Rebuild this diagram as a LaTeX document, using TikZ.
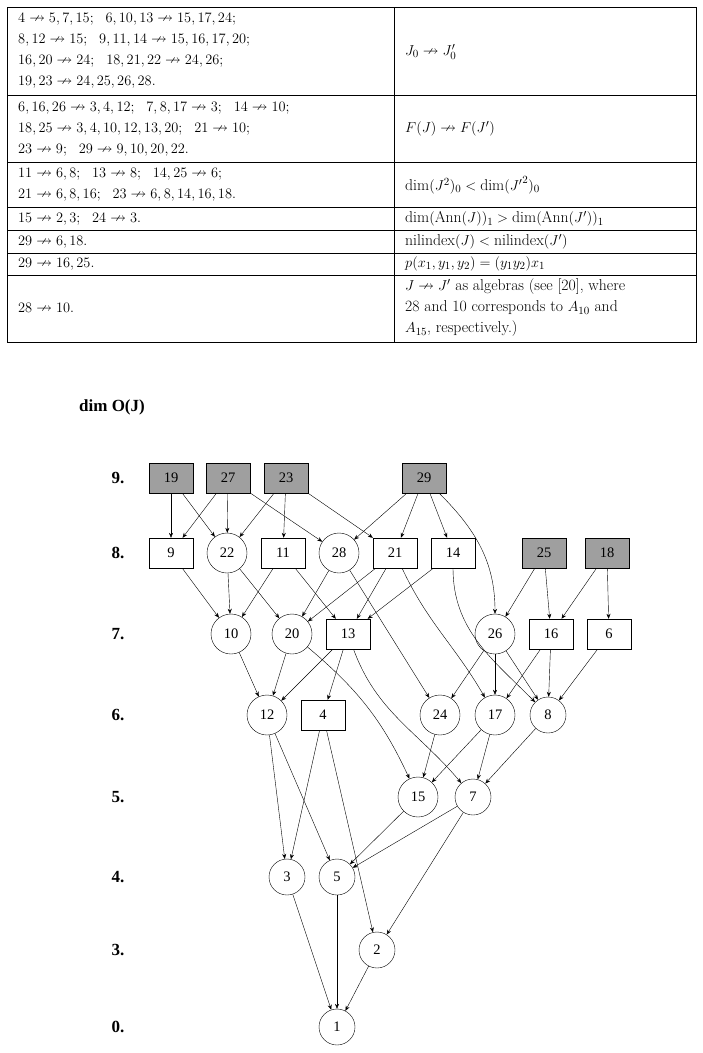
\documentclass[tikz,border=0pt]{standalone}
\usepackage{amssymb}
\usepackage{fontspec}
\newfontfamily\tms{Liberation Serif}
\usetikzlibrary{arrows.meta,positioning}
\newcommand{\na}{\nrightarrow}
\begin{document}
\begin{tikzpicture}
   [x=1pt,y=-1pt,
    every node/.style={font=\tms\fontsize{14.5}{16}\selectfont},
    cell/.style={anchor=west,align=left,inner sep=0pt,font=\fontsize{15.7}{21}\selectfont},
    box/.style={draw,rectangle,minimum width=44pt,minimum height=30pt,inner sep=1pt},
    gbox/.style={box,fill=gray!75},
    circ/.style={draw,circle,minimum size=40pt,inner sep=1pt},
    lvl/.style={font=\tms\bfseries\fontsize{17}{19}\selectfont},
    every edge/.style={draw,-{Stealth[length=5pt,width=4pt]},thin}]
   \useasboundingbox (0,0) rectangle (703,1053);
   % table
   \draw[thick] (7,7) rectangle (696,342);
   \draw (394,7) -- (394,342);
   \foreach \y in {95,162,207,230,253,275} \draw (7,\y) -- (696,\y);
   \node[cell] (l1) at (18,51) {$4\na5,7,15;\ \ 6,10,13\na15,17,24;$\\$8,12\na15;\ \ 9,11,14\na15,16,17,20;$\\$16,20\na24;\ \ 18,21,22\na24,26;$\\$19,23\na24,25,26,28.$};
   \node[cell] (r1) at (405,52) {$J_0\na J_0'$};
   \node[cell] (l2) at (18,129) {$6,16,26\na3,4,12;\ \ 7,8,17\na3;\ \ 14\na10;$\\$18,25\na3,4,10,12,13,20;\ \ 21\na10;$\\$23\na9;\ \ 29\na9,10,20,22.$};
   \node[cell] (r2) at (405,129) {$F(J)\na F(J')$};
   \node[cell] (l3) at (18,185) {$11\na6,8;\ \ 13\na8;\ \ 14,25\na6;$\\$21\na6,8,16;\ \ 23\na6,8,14,16,18.$};
   \node[cell] (r3) at (405,185) {$\dim(J^2)_0<\dim({J'}^2)_0$};
   \node[cell] (l4) at (18,219) {$15\na2,3;\ \ 24\na3.$};
   \node[cell] (r4) at (405,219) {$\dim(\mathrm{Ann}(J))_1>\dim(\mathrm{Ann}(J'))_1$};
   \node[cell] (l5) at (18,242) {$29\na6,18.$};
   \node[cell] (r5) at (405,242) {$\mathrm{nilindex}(J)<\mathrm{nilindex}(J')$};
   \node[cell] (l6) at (18,264) {$29\na16,25.$};
   \node[cell] (r6) at (405,264) {$p(x_1,y_1,y_2)=(y_1y_2)x_1$};
   \node[cell] (l7) at (18,308) {$28\na10.$};
   \node[cell] (r7) at (405,308) {$J\na J'$ as algebras (see [20], where\\28 and 10 corresponds to $A_{10}$ and\\$A_{15}$, respectively.)};
   % graph
   \node[lvl] (dim) at (112,407) {dim O(J)};
   \node[lvl] (L9) at (118,478) {9.};
   \node[lvl] (L8) at (118,553) {8.};
   \node[lvl] (L7) at (118,634) {7.};
   \node[lvl] (L6) at (118,715) {6.};
   \node[lvl] (L5) at (118,797) {5.};
   \node[lvl] (L4) at (118,877) {4.};
   \node[lvl] (L3) at (118,950) {3.};
   \node[lvl] (L0) at (118,1027) {0.};
   \node[gbox] (n19) at (171,478) {19};
   \node[gbox] (n27) at (228,478) {27};
   \node[gbox] (n23) at (286,478) {23};
   \node[gbox] (n29) at (424,478) {29};
   \node[box] (n9) at (171,553) {9};
   \node[circ] (n22) at (227,553) {22};
   \node[box] (n11) at (283,553) {11};
   \node[circ] (n28) at (339,553) {28};
   \node[box] (n21) at (395,553) {21};
   \node[box] (n14) at (453,553) {14};
   \node[gbox] (n25) at (544,553) {25};
   \node[gbox] (n18) at (607,553) {18};
   \node[circ] (n10) at (231,634) {10};
   \node[circ] (n20) at (292,634) {20};
   \node[box] (n13) at (348,634) {13};
   \node[circ] (n26) at (495,634) {26};
   \node[box] (n16) at (551,634) {16};
   \node[box] (n6) at (609,634) {6};
   \node[circ] (n12) at (267,715) {12};
   \node[box] (n4) at (323,715) {4};
   \node[circ] (n24) at (440,715) {24};
   \node[circ] (n17) at (495,715) {17};
   \node[circ,minimum size=36pt] (n8) at (548,715) {8};
   \node[circ] (n15) at (418,797) {15};
   \node[circ,minimum size=36pt] (n7) at (473,797) {7};
   \node[circ,minimum size=36pt] (n3) at (287,877) {3};
   \node[circ,minimum size=36pt] (n5) at (337,877) {5};
   \node[circ,minimum size=36pt] (n2) at (377,950) {2};
   \node[circ,minimum size=36pt] (n1) at (337,1027) {1};
   \path (n19) edge (n9) edge (n22);
   \path (n27) edge (n9) edge (n22) edge (n28);
   \path (n23) edge (n22) edge (n11) edge (n21);
   \path (n29) edge (n28) edge (n21) edge (n14);
   \path (n29) edge[out=-45,in=90] (n26);
   \path (n9) edge (n10);
   \path (n22) edge (n10) edge (n20);
   \path (n11) edge (n10) edge (n13);
   \path (n28) edge (n20) edge (n24);
   \path (n21) edge (n20) edge (n13);
   \path (n21) edge[out=-65,in=120] (n17);
   \path (n14) edge (n13);
   \path (n14.south) edge[out=-90,in=135] (n8);
   \path (n25) edge (n26) edge (n16);
   \path (n18) edge (n16) edge (n6);
   \path (n10) edge (n12);
   \path (n20) edge (n12);
   \path (n20) edge[out=-40,in=115] (n15);
   \path (n13) edge (n12) edge (n4);
   \path (n13) edge[out=-70,in=130] (n7);
   \path (n26) edge (n24) edge (n17) edge (n8);
   \path (n16) edge (n17) edge (n8);
   \path (n6) edge (n8);
   \path (n12) edge (n3) edge (n5);
   \path (n4) edge (n3) edge (n2);
   \path (n24) edge (n15);
   \path (n17) edge (n15) edge (n7);
   \path (n8) edge (n7);
   \path (n15) edge (n5);
   \path (n7) edge (n5) edge (n2);
   \path (n3) edge (n1);
   \path (n5) edge (n1);
   \path (n2) edge (n1);
\end{tikzpicture}
\end{document}
